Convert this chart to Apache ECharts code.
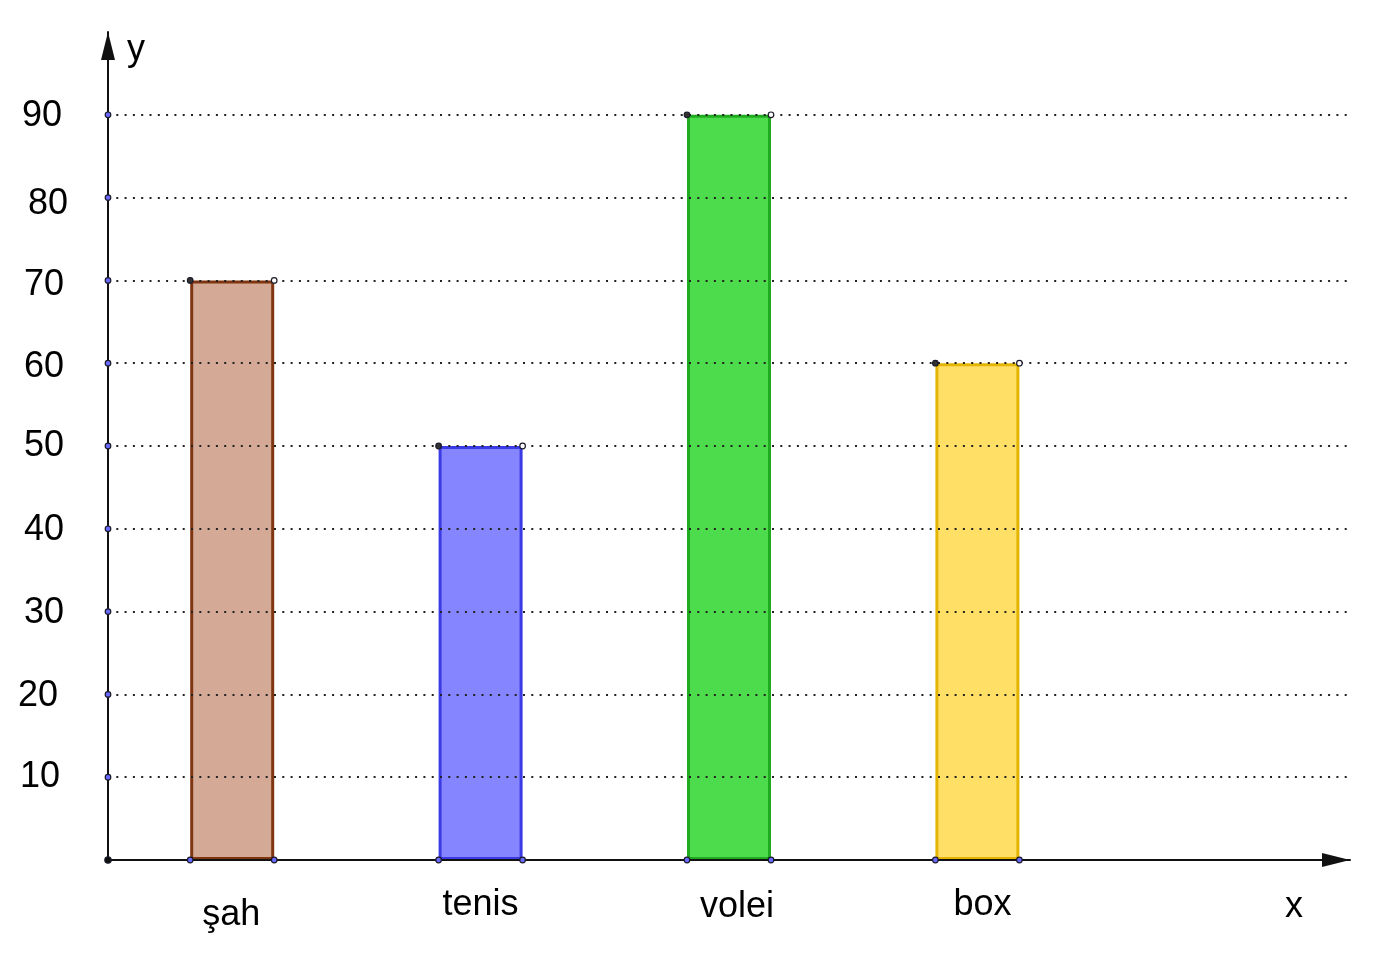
<!DOCTYPE html>
<html>
<head>
<meta charset="utf-8">
<script src="https://cdn.jsdelivr.net/npm/echarts@6/dist/echarts.min.js"></script>
<style>
html,body{margin:0;padding:0;background:#fff;}
#chart{width:1373px;height:959px;}
</style>
</head>
<body>
<div id="chart"></div>
<script>
// ---- data ----
const categories = ['şah', 'tenis', 'volei', 'box', ''];
const values = [70, 50, 90, 60];
const yTickValues = [0, 10, 20, 30, 40, 50, 60, 70, 80, 90];
const xAxisName = 'x';
const yAxisName = 'y';

// ---- styles ----
const fillColors = ['#d4aa96', '#8585ff', '#4cdc4c', '#ffdf66'];
const strokeColors = ['#7f3510', '#3b3be6', '#1faa1f', '#e3b500'];
const FONT = 'Liberation Sans, Arial, sans-serif';
const FS = 36;
const BAR_W = 84;

// per-label small offsets [dx, dy] to mimic the original placement
const yLabelShift = {90: [6, 1], 80: [0, 6], 70: [4, 5], 60: [4, 4], 50: [4, 0], 40: [4, 1], 30: [4, 1], 20: [10, 2], 10: [8, 0]};
const xLabelShift = [[-1, 5], [0, 0], [8, 1], [5, -4]];

function padFor(dx, dy, alignRight) {
  // returns padding [top,right,bottom,left]
  const top = dy > 0 ? 2 * dy : 0;
  const bottom = dy < 0 ? -2 * dy : 0;
  if (alignRight) return [top, dx, bottom, 0];
  return [top, dx < 0 ? -2 * dx : 0, bottom, dx > 0 ? 2 * dx : 0];
}

const yRich = {};
Object.keys(yLabelShift).forEach(k => {
  const s = yLabelShift[k];
  yRich['y' + k] = {fontSize: FS, fontFamily: FONT, color: '#000', padding: padFor(s[0], s[1], true)};
});
const xRich = {};
xLabelShift.forEach((s, i) => {
  xRich['x' + i] = {fontSize: FS, fontFamily: FONT, color: '#000', padding: padFor(s[0], s[1], false)};
});

const chart = echarts.init(document.getElementById('chart'), null, {renderer: 'canvas'});

const option = {
  backgroundColor: '#ffffff',
  animation: false,
  grid: {left: 108, right: 23, top: 32, bottom: 99, containLabel: false},
  xAxis: {
    type: 'category',
    data: categories,
    boundaryGap: true,
    z: 3,
    name: '{n|' + xAxisName + '}',
    nameLocation: 'end',
    nameGap: -56,
    nameTextStyle: {fontSize: FS, fontFamily: FONT, color: '#000', align: 'center', verticalAlign: 'top',
      rich: {n: {fontSize: FS, fontFamily: FONT, color: '#000', padding: [29, 0, 0, 0]}}},
    axisLine: {show: true, symbol: ['none', 'triangle'], symbolSize: [14, 28], symbolOffset: [0, -14],
      lineStyle: {color: '#111', width: 2}},
    axisTick: {show: false},
    splitLine: {show: false},
    axisLabel: {
      interval: 0, margin: 27, fontSize: FS, fontFamily: FONT, color: '#000',
      formatter: function (v, i) { return v === '' ? '' : '{x' + i + '|' + v + '}'; },
      rich: xRich
    }
  },
  yAxis: {
    type: 'value',
    min: 0, max: 100, interval: 10,
    z: 3,
    name: yAxisName,
    nameLocation: 'end',
    nameGap: -18,
    nameTextStyle: {fontSize: FS, fontFamily: FONT, color: '#000', align: 'left', verticalAlign: 'middle', padding: [0, 0, 0, 19]},
    axisLine: {show: true, symbol: ['none', 'triangle'], symbolSize: [14, 28], symbolOffset: [0, -14],
      lineStyle: {color: '#111', width: 2}},
    axisTick: {show: false},
    splitLine: {show: true, showMinLine: false, showMaxLine: false,
      lineStyle: {color: '#222', width: 2, type: [2, 6.3]}},
    axisLabel: {
      margin: 40, showMinLabel: false, showMaxLabel: false, fontSize: FS, fontFamily: FONT, color: '#000',
      formatter: function (v) { return yLabelShift[v] ? '{y' + v + '|' + v + '}' : ''; },
      rich: yRich
    }
  },
  series: [
    {
      type: 'bar',
      z: 1,
      barWidth: BAR_W,
      data: values.map((v, i) => ({
        value: v,
        itemStyle: {color: fillColors[i], borderColor: strokeColors[i], borderWidth: 3}
      }))
    },
    {
      // corner points of each bar
      type: 'custom',
      z: 6,
      silent: true,
      data: values.map((v, i) => [i, v]),
      renderItem: function (params, api) {
        const top = api.coord([api.value(0), api.value(1)]);
        const base = api.coord([api.value(0), 0]);
        const h = BAR_W / 2;
        const r = 2.8;
        const mk = (x, y, fill) => ({type: 'circle', shape: {cx: x, cy: y, r: r},
          style: {fill: fill, stroke: '#1a1a2a', lineWidth: 1.2}});
        return {type: 'group', children: [
          mk(top[0] - h, top[1], '#333'),
          mk(top[0] + h, top[1], '#ffffff'),
          mk(base[0] - h, base[1], '#6a6aff'),
          mk(base[0] + h, base[1], '#6a6aff')
        ]};
      }
    },
    {
      // points on the y axis at every tick
      type: 'custom',
      z: 6,
      silent: true,
      data: yTickValues.map(v => [0, v]),
      renderItem: function (params, api) {
        const p = api.coord([0, api.value(1)]);
        const x = p[0] - api.size([1, 0])[0] / 2;
        const isOrigin = api.value(1) === 0;
        return {type: 'circle', shape: {cx: x, cy: p[1], r: isOrigin ? 3.2 : 2.8},
          style: {fill: isOrigin ? '#111' : '#6a6aff', stroke: '#1a1a2a', lineWidth: 1.2}};
      }
    }
  ]
};
chart.setOption(option);
</script>
</body>
</html>
